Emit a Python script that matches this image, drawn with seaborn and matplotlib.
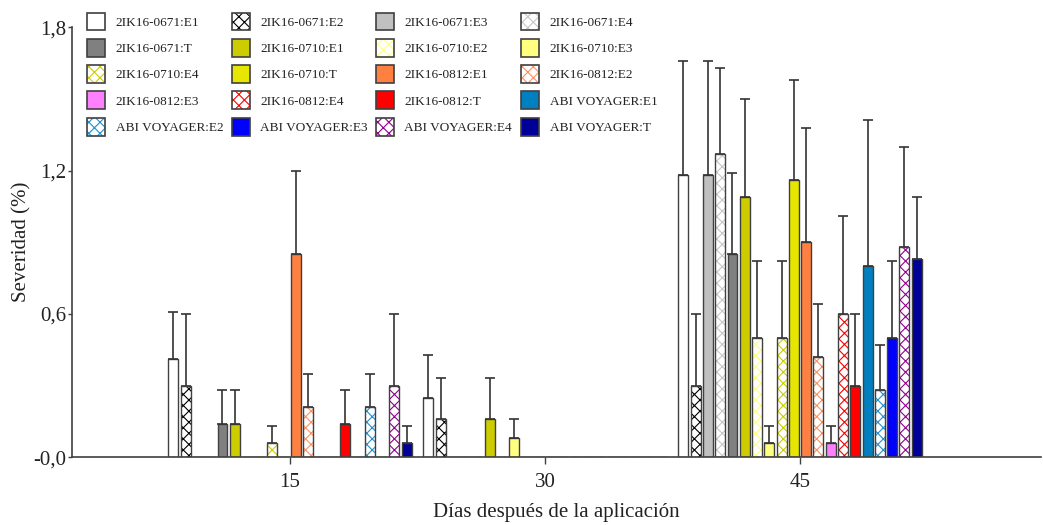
import numpy as np
import pandas as pd
import matplotlib
matplotlib.use("Agg")
import matplotlib.pyplot as plt
import seaborn as sns
from matplotlib.patches import Patch, Rectangle

# Evaluation days (x categories)
days = ["15", "30", "45"]

# Treatments (hue levels, in plotting order)
treatments = [
    "2IK16-0671:E1", "2IK16-0671:E2", "2IK16-0671:E3", "2IK16-0671:E4",
    "2IK16-0671:T", "2IK16-0710:E1", "2IK16-0710:E2", "2IK16-0710:E3",
    "2IK16-0710:E4", "2IK16-0710:T", "2IK16-0812:E1", "2IK16-0812:E2",
    "2IK16-0812:E3", "2IK16-0812:E4", "2IK16-0812:T", "ABI VOYAGER:E1",
    "ABI VOYAGER:E2", "ABI VOYAGER:E3", "ABI VOYAGER:E4", "ABI VOYAGER:T",
]

# Mean severity (%) per treatment for each day
sev_15 = [0.41, 0.30, 0.00, 0.00, 0.14, 0.14, 0.00, 0.00, 0.06, 0.00,
          0.85, 0.21, 0.00, 0.00, 0.14, 0.00, 0.21, 0.00, 0.30, 0.06]
sev_30 = [0.25, 0.16, 0.00, 0.00, 0.00, 0.16, 0.00, 0.08, 0.00, 0.00,
          0.00, 0.00, 0.00, 0.00, 0.00, 0.00, 0.00, 0.00, 0.00, 0.00]
sev_45 = [1.18, 0.30, 1.18, 1.27, 0.85, 1.09, 0.50, 0.06, 0.50, 1.16,
          0.90, 0.42, 0.06, 0.60, 0.30, 0.80, 0.28, 0.50, 0.88, 0.83]

# Standard deviation (upper error bar)
err_15 = [0.20, 0.30, 0.00, 0.00, 0.14, 0.14, 0.00, 0.00, 0.07, 0.00,
          0.35, 0.14, 0.00, 0.00, 0.14, 0.00, 0.14, 0.00, 0.30, 0.07]
err_30 = [0.18, 0.17, 0.00, 0.00, 0.00, 0.17, 0.00, 0.08, 0.00, 0.00,
          0.00, 0.00, 0.00, 0.00, 0.00, 0.00, 0.00, 0.00, 0.00, 0.00]
err_45 = [0.48, 0.30, 0.48, 0.36, 0.34, 0.41, 0.32, 0.07, 0.32, 0.42,
          0.48, 0.22, 0.07, 0.41, 0.30, 0.61, 0.19, 0.32, 0.42, 0.26]

# Solid fill colours (hatched treatments are drawn on white)
fill_colors = [
    "#FFFFFF", "#FFFFFF", "#C0C0C0", "#FFFFFF", "#808080",
    "#CCCC00", "#FFFFFF", "#FFFF80", "#FFFFFF", "#E6E600",
    "#FF8040", "#FFFFFF", "#FF80FF", "#FFFFFF", "#FF0000",
    "#0080C0", "#FFFFFF", "#0000FF", "#FFFFFF", "#000099",
]
# Cross-hatch colours (None = solid bar)
hatch_colors = [
    None, "#000000", None, "#C8C8C8", None,
    None, "#FFFF80", None, "#CCCC00", None,
    None, "#FF9060", None, "#FF0000", None,
    None, "#2090D0", None, "#900090", None,
]

OUTLINE = "#404040"
HATCH = "xxx"

sns.set_style("ticks")
plt.rcParams["font.family"] = ["Liberation Serif", "DejaVu Serif"]
plt.rcParams["hatch.linewidth"] = 0.8

df = pd.DataFrame({
    "dia": np.repeat(days, len(treatments)),
    "trat": treatments * len(days),
    "sev": sev_15 + sev_30 + sev_45,
})
errs = [err_15, err_30, err_45]

W, H = 1043, 525
fig = plt.figure(figsize=(W / 100, H / 100), dpi=100)
ax = fig.add_axes([72 / W, 1 - 457.3 / H, (1041 - 72) / W, (457.3 - 27.3) / H])

sns.barplot(
    data=df, x="dia", y="sev", hue="trat", order=days, hue_order=treatments,
    palette=fill_colors, saturation=1, errorbar=None, width=0.963, gap=0.19,
    dodge=True, legend=False, linewidth=1.0, edgecolor=OUTLINE, ax=ax,
)

xs, ys, es = [], [], []
for i, cont in enumerate(ax.containers):
    hc = hatch_colors[i]
    for bar in cont:
        xc = bar.get_x() + bar.get_width() / 2
        d = int(round(xc))
        h = bar.get_height()
        if hc is not None:
            bar.set_facecolor("white")
            bar.set_edgecolor(hc)
            bar.set_hatch(HATCH)
            bar.set_linewidth(0)
            ax.add_patch(Rectangle((bar.get_x(), 0), bar.get_width(), h,
                                   fill=False, edgecolor=OUTLINE, linewidth=1.0,
                                   zorder=bar.get_zorder() + 0.1))
        if h > 0:
            xs.append(xc)
            ys.append(h)
            es.append(errs[d][i])

ax.errorbar(xs, ys, yerr=[np.zeros(len(es)), es], fmt="none",
            ecolor="#333333", elinewidth=1.2, capsize=3.6, capthick=1.2,
            zorder=1)

ax.set_xlim(-0.855, 2.945)
ax.set_ylim(0, 1.8)
ax.set_yticks([0, 0.6, 1.2, 1.8])
ax.set_yticklabels(["-0,0", "0,6", "1,2", "1,8"])
ax.set_xticks([0, 1, 2])
ax.set_xticklabels(days)
ax.tick_params(axis="both", labelsize=15, color=OUTLINE, labelcolor="#222222",
               width=1.0)
ax.tick_params(axis="y", length=3, pad=1)
ax.tick_params(axis="x", length=5, pad=6)
sns.despine(ax=ax)
for s in ("left", "bottom"):
    ax.spines[s].set_color(OUTLINE)
    ax.spines[s].set_linewidth(1.2)

ax.set_ylabel("Severidad (%)", fontsize=15, color="#222222", labelpad=1.5)
ax.set_xlabel("Días después de la aplicación", fontsize=15, color="#222222",
              labelpad=8)

# Legend: four columns, five rows
def legend_handle(i):
    hc = hatch_colors[i]
    if hc is None:
        return Patch(facecolor=fill_colors[i], edgecolor=OUTLINE, linewidth=1.2)
    return (Patch(facecolor="white", edgecolor=hc, hatch=HATCH, linewidth=0),
            Patch(fill=False, edgecolor=OUTLINE, linewidth=1.2))

col_x = [87, 232, 376, 521]
for c, x0 in enumerate(col_x):
    idx = list(range(c, len(treatments), 4))
    fig.legend(
        handles=[legend_handle(i) for i in idx],
        labels=[treatments[i] for i in idx],
        loc="upper left", bbox_to_anchor=(x0 / W, 1 - 12.5 / H),
        frameon=False, borderpad=0, borderaxespad=0,
        handlelength=1.36, handleheight=1.72, handletextpad=0.8,
        labelspacing=0.63, fontsize=9.5, labelcolor="#222222",
    )

fig.savefig("out.png", dpi=100)
